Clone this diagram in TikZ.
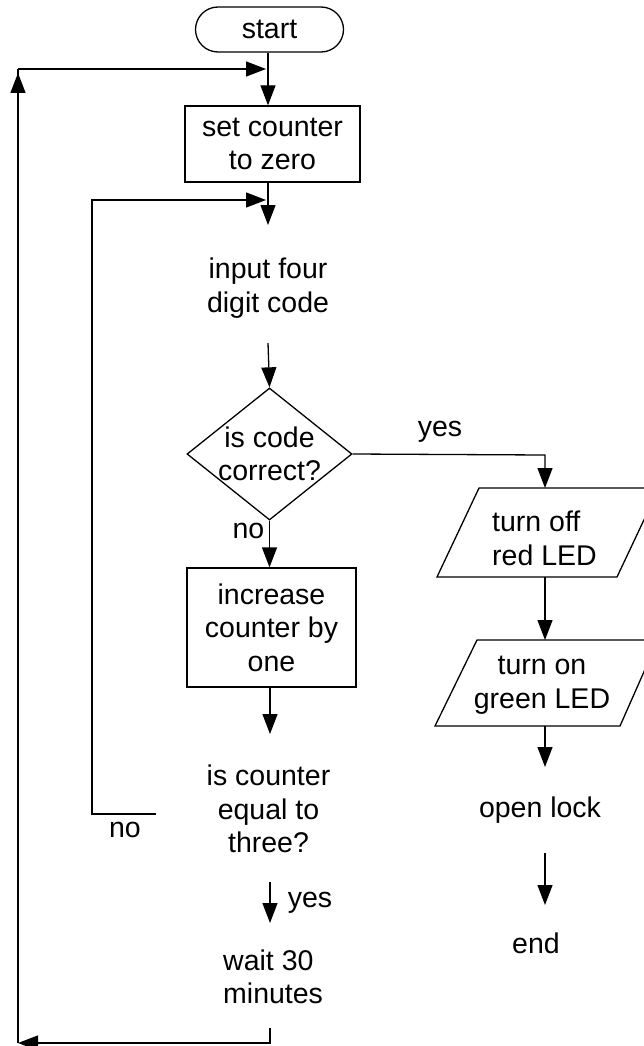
\documentclass[tikz,border=0pt]{standalone}
\usepackage{fontspec}
\setmainfont{Liberation Sans}
\usetikzlibrary{arrows.meta,shapes.geometric,shapes.misc}

\tikzset{
  every node/.style={font=\fontsize{28.5}{33.5}\selectfont, inner sep=0pt},
  flow/.style={line width=1.3pt},
  arr/.style={flow, -{Triangle[length=20pt,width=15pt]}},
  terminal/.style={draw, line width=1.3pt, rounded rectangle, minimum width=148pt, minimum height=45pt},
  procbox/.style={draw, line width=1.3pt, rectangle, align=center},
  decision/.style={draw, line width=1.3pt, diamond, minimum width=165pt, minimum height=132pt, aspect=1.25},
  txt/.style={align=center},
}

\begin{document}
\begin{tikzpicture}[x=1pt,y=-1pt]
\useasboundingbox (0,0) rectangle (643,1046);

% main column
\node[terminal] (start) at (269.5,29.5) {start};
\node[procbox, minimum width=175pt, minimum height=76pt] (zero) at (272.5,144) {set counter\\to zero};
\node[txt] (input) at (268,288) {input four\\digit code};
\node[decision, label={[align=center]center:is code\\correct?}] (check) at (269.5,454) {};
\node (no1) at (248.5,531) {no};
\node[procbox, minimum width=169pt, minimum height=119pt] (inc) at (271.5,627.5) {increase\\counter by\\one};
\node[txt] (three) at (268.5,809) {is counter\\equal to\\three?};
\node (yes2) at (310,903) {yes};
\node[align=left, anchor=west] (wait) at (223,977) {wait 30\\minutes};
\node (no2) at (125,830) {no};

% right column
\node (yes1) at (440,432) {yes};
\draw[flow] (479,488) -- (659,488) -- (617,577) -- (437,577) -- cycle;
\node[align=left, anchor=west] (off) at (492,538.5) {turn off\\red LED};
\draw[flow] (477,640) -- (658,640) -- (620,726) -- (435,726) -- cycle;
\node[txt] (on) at (542,685) {turn on\\green LED};
\node (open) at (540,810) {open lock};
\node (end) at (536,943) {end};

% connector points
\coordinate (topjoin) at (268,69);
\coordinate (midjoin) at (268,200);
\coordinate (leftbot) at (18,1043);
\coordinate (lefttop) at (18,69);
\coordinate (innerbot) at (92,814);
\coordinate (innertop) at (92,200);
\coordinate (nostub) at (156,814);
\coordinate (yescorner) at (545,455);
\coordinate (offtop) at (545,488);
\coordinate (offbot) at (545,577);
\coordinate (ontop) at (545,640);
\coordinate (onbot) at (545,726);

% connectors
\draw[arr] (start.south -| topjoin) -- (zero.north -| topjoin);
\draw[arr] (zero.south -| midjoin) -- (268,225);
\draw[arr] (268,343) -- (check.north);
\draw[arr] (check.south) -- (inc.north -| check.south);
\draw[arr] (270,687) -- (270,734);
\draw[arr] (270,882) -- (270,923);
\draw[arr] (check.east) -- (yescorner) -- (offtop);
\draw[arr] (offbot) -- (ontop);
\draw[arr] (onbot) -- (545,767);
\draw[arr] (545,853) -- (545,905);

% "no" loop back to the code input
\draw[arr] (nostub) -- (innerbot) -- (innertop) -- (266,200);

% loop back to the start after waiting
\draw[arr] (270,1028) -- (270,1043) -- (leftbot);
\draw[flow] (leftbot) -- (lefttop);
\draw[arr] (leftbot) -- (18,73);
\draw[arr] (lefttop) -- (266,69);
\end{tikzpicture}
\end{document}
